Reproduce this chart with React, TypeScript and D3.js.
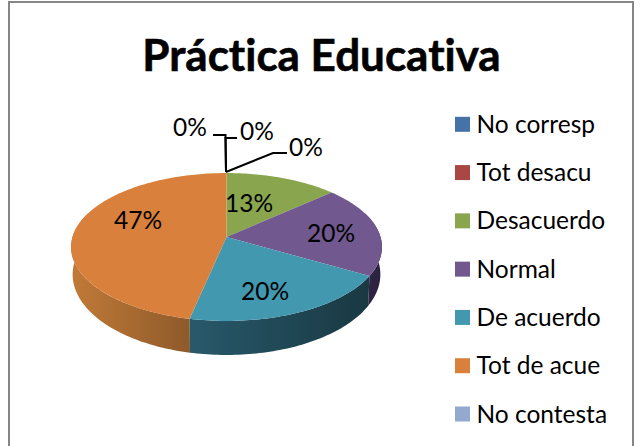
import React from "react";
import * as d3 from "d3";

const categories = ["No corresp", "Tot desacu", "Desacuerdo", "Normal", "De acuerdo", "Tot de acue", "No contesta"];
const values = [0, 0, 2, 3, 3, 7, 0];
const percentLabels = ["0%", "0%", "13%", "20%", "20%", "47%", "0%"];
const topColors = ["#4572A7", "#AA4643", "#89A54E", "#71588F", "#4198AF", "#D8803C", "#93A9CF"];
const sideFrom = ["#2f4d72", "#73302e", "#5d7035", "#2f2444", "#28596b", "#c17a38", "#647390"];
const sideTo = ["#2f4d72", "#73302e", "#5d7035", "#2b2140", "#193842", "#8e5a2a", "#647390"];
const title = "Práctica Educativa";

const W = 641, H = 446;
const FONT = "Lato, 'Open Sans', sans-serif";
const apex = { x: 226.5, y: 237 };
const B = 154, A = 72.6, K = 0.135;
const baseX = 0.99, baseY = 1.09, baseDy = 26.5;
const labelPos: [number, number][] = [[190, 127], [257, 131], [249, 203], [331, 233], [265, 291], [138, 220], [306, 147]];
const leaders: [number, number][][] = [
  [[226, 172], [225.5, 135], [213, 135]],
  [[226, 172], [225.5, 138], [237, 138]],
  [[226, 172], [273, 153], [287, 153]],
];

function top(t: number): [number, number] {
  const u = Math.sin(t), v = Math.cos(t), d = 1 + K * v;
  return [apex.x + (B * u) / d, apex.y - (A * v) / d];
}
function base(t: number): [number, number] {
  const [x, y] = top(t);
  return [apex.x + (x - apex.x) * baseX, apex.y + (y - apex.y) * baseY + baseDy];
}
const sample = (a: number, b: number) => {
  const n = Math.max(2, Math.ceil((b - a) / 0.02));
  return d3.range(n + 1).map((i) => a + ((b - a) * i) / n);
};
const line = d3.line();

export default function App() {
  const arcs = d3.pie<number>().sort(null).value((d) => d)(values);
  const legendY = d3.scaleLinear().domain([0, categories.length - 1]).range([124.3, 414]);
  const sideMin = (70 * Math.PI) / 180, sideMax = (290 * Math.PI) / 180;
  const order = [5, 4, 3];
  const textStyle = { fontVariantLigatures: "none" as const };
  return (
    <svg width={W} height={H} viewBox={`0 0 ${W} ${H}`} style={{ position: "fixed", left: 0, top: 0, background: "#fff" }}>
      <defs>
        {categories.map((_, i) => (
          <linearGradient key={i} id={`side${i}`} x1="0" x2="1" y1="0" y2="0">
            <stop offset="0" stopColor={sideFrom[i]} />
            <stop offset="1" stopColor={sideTo[i]} />
          </linearGradient>
        ))}
      </defs>
      <path d={`M9 ${H}V2H633V${H}`} fill="none" stroke="#868686" strokeWidth={2} />
      <text x={321.5} y={71} textAnchor="middle" fontFamily={FONT} fontWeight={700} fontSize={44} fill="#000" stroke="#000" strokeWidth={0.6} style={textStyle}>{title}</text>
      {order.map((i) => {
        const a = Math.max(arcs[i].startAngle, sideMin), b = Math.min(arcs[i].endAngle, sideMax);
        const ts = sample(a, b);
        const pts = [...ts.map(top), ...ts.slice().reverse().map(base)];
        return <path key={i} d={line(pts) + "Z"} fill={`url(#side${i})`} />;
      })}
      {arcs.map((s, i) =>
        values[i] > 0 ? (
          <path key={i} d={line([[apex.x, apex.y], ...sample(s.startAngle, s.endAngle).map(top)]) + "Z"} fill={topColors[i]} />
        ) : null
      )}
      {leaders.map((l, i) => (
        <path key={i} d={line(l) ?? ""} fill="none" stroke="#000" strokeWidth={2} />
      ))}
      {percentLabels.map((t, i) => (
        <text key={i} x={labelPos[i][0]} y={labelPos[i][1]} dy="0.35em" textAnchor="middle" fontFamily={FONT} fontSize={24.5} fill="#000" style={textStyle}>{t}</text>
      ))}
      {categories.map((c, i) => (
        <g key={c}>
          <rect x={455} y={legendY(i) - 7.5} width={15} height={15} fill={topColors[i]} />
          <text x={476.5} y={legendY(i)} dy="0.35em" fontFamily={FONT} fontSize={24.5} fill="#000" style={textStyle}>{c}</text>
        </g>
      ))}
    </svg>
  );
}
